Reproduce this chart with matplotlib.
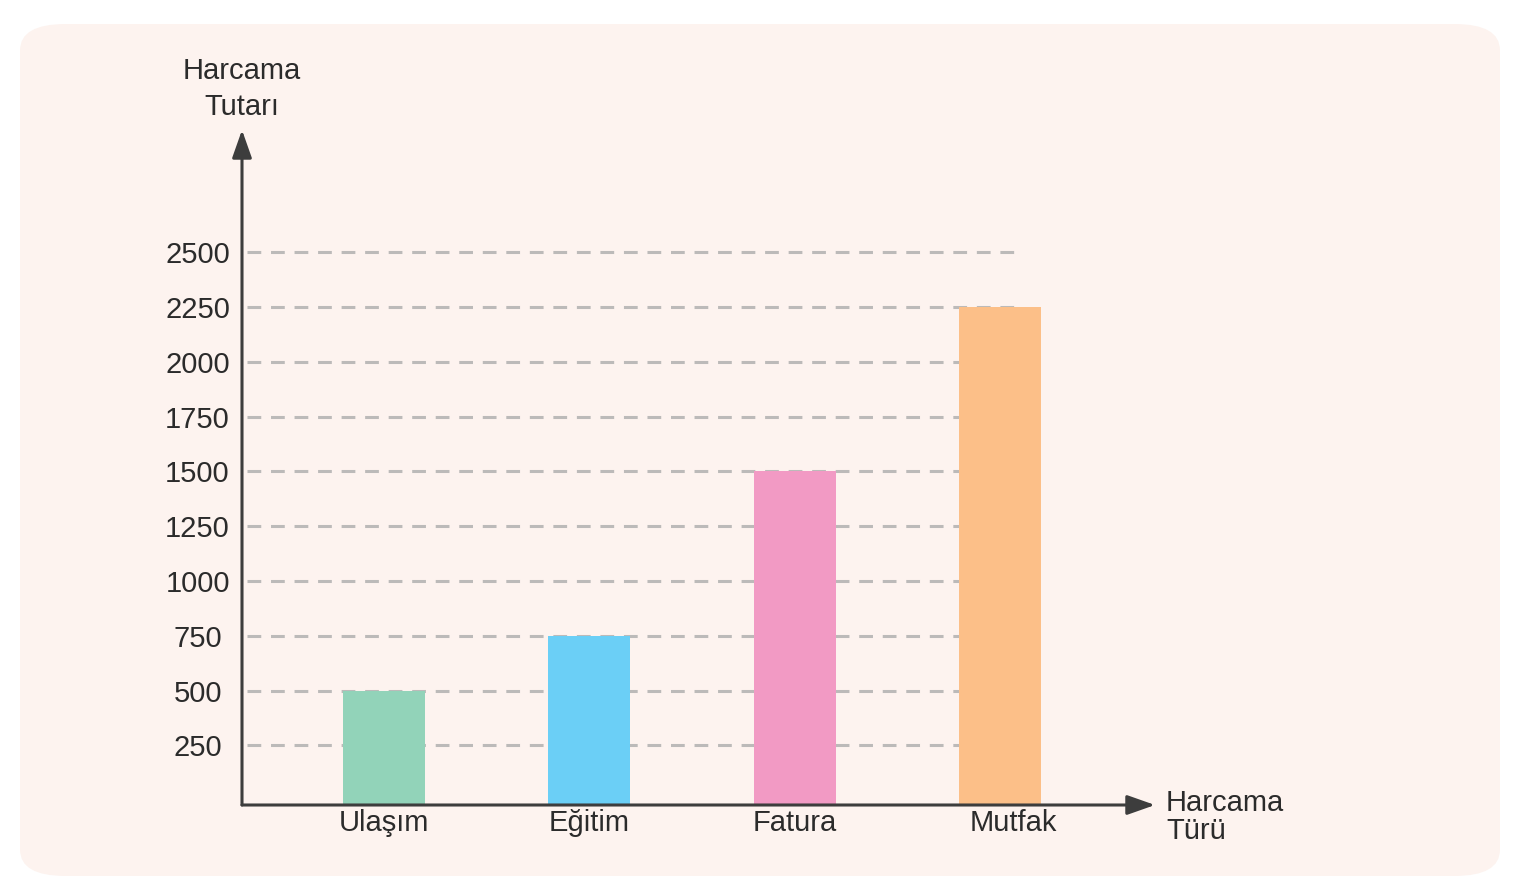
import matplotlib.pyplot as plt
import matplotlib.transforms as mtransforms
from matplotlib.patches import FancyBboxPatch

categories = ['Ulaşım', 'Eğitim', 'Fatura', 'Mutfak']
amounts = [500, 750, 1500, 2250]
bar_colors = ['#92d3b9', '#6bcff6', '#f29ac4', '#fcbf88']
y_ticks = [250, 500, 750, 1000, 1250, 1500, 1750, 2000, 2250, 2500]

plt.rcParams['font.family'] = ['Liberation Sans', 'DejaVu Sans']
text_color = '#2b2b2b'
axis_color = '#3d3d3d'
fs = 21

fig = plt.figure(figsize=(15.2, 8.8), dpi=100)
fig.patch.set_facecolor('white')

# rounded pale panel behind everything
panel = FancyBboxPatch((20 / 1520, 4 / 880), 1480 / 1520, 852 / 880,
                       boxstyle='round,pad=0,rounding_size=0.03',
                       transform=fig.transFigure, facecolor='#fdf3ef',
                       edgecolor='none', zorder=-10)
fig.patches.append(panel)

ax = fig.add_axes([242 / 1520, 75 / 880, 913 / 1520, 675 / 880])
ax.set_facecolor('none')
ax.set_zorder(1)
base = -22  # the drawn x axis sits a little under the zero level
ax.set_xlim(-0.692, 3.755)
ax.set_ylim(base, 3058)

x = list(range(len(categories)))

# dashed guide lines, behind the bars
ax.hlines(y_ticks, -0.67, 3.1, colors='#bcbab9', linestyles=(0, (4.5, 3.2)),
          linewidth=2.2, zorder=1)
ax.bar(x, [a - base for a in amounts], bottom=base, width=0.40,
       color=bar_colors, zorder=2)

for s in ax.spines.values():
    s.set_visible(False)

# axes with arrow heads
arrow = dict(arrowstyle='-|>,head_length=0.85,head_width=0.3', color=axis_color,
             lw=2.2, mutation_scale=20, shrinkA=0, shrinkB=0)
ax.annotate('', xy=(1, 0), xytext=(0, 0), xycoords='axes fraction',
            arrowprops=arrow, annotation_clip=False)
ax.annotate('', xy=(0, 1), xytext=(0, 0), xycoords='axes fraction',
            arrowprops=arrow, annotation_clip=False)

ax.set_yticks(y_ticks, [str(v) for v in y_ticks])
ax.set_xticks(x, categories)
ax.tick_params(axis='y', length=0, pad=32, labelsize=fs, labelcolor=text_color)
ax.tick_params(axis='x', length=0, pad=3, labelsize=fs, labelcolor=text_color)
for lbl in ax.get_yticklabels():
    lbl.set_horizontalalignment('center')
# the last label sits a bit right of its bar in the original
mutfak = ax.get_xticklabels()[-1]
mutfak.set_transform(mutfak.get_transform() +
                     mtransforms.ScaledTranslation(13 / 100, 0, fig.dpi_scale_trans))

fig.text(242 / 1520, 1 - 89 / 880, 'Harcama\nTutarı', ha='center', va='center',
         fontsize=fs, color=text_color, linespacing=1.32)
fig.text(1166 / 1520, 1 - 817 / 880, 'Harcama\nTürü', ha='left', va='center',
         fontsize=fs, color=text_color, linespacing=0.97)

fig.savefig('out.png', dpi=100, facecolor=fig.get_facecolor())
